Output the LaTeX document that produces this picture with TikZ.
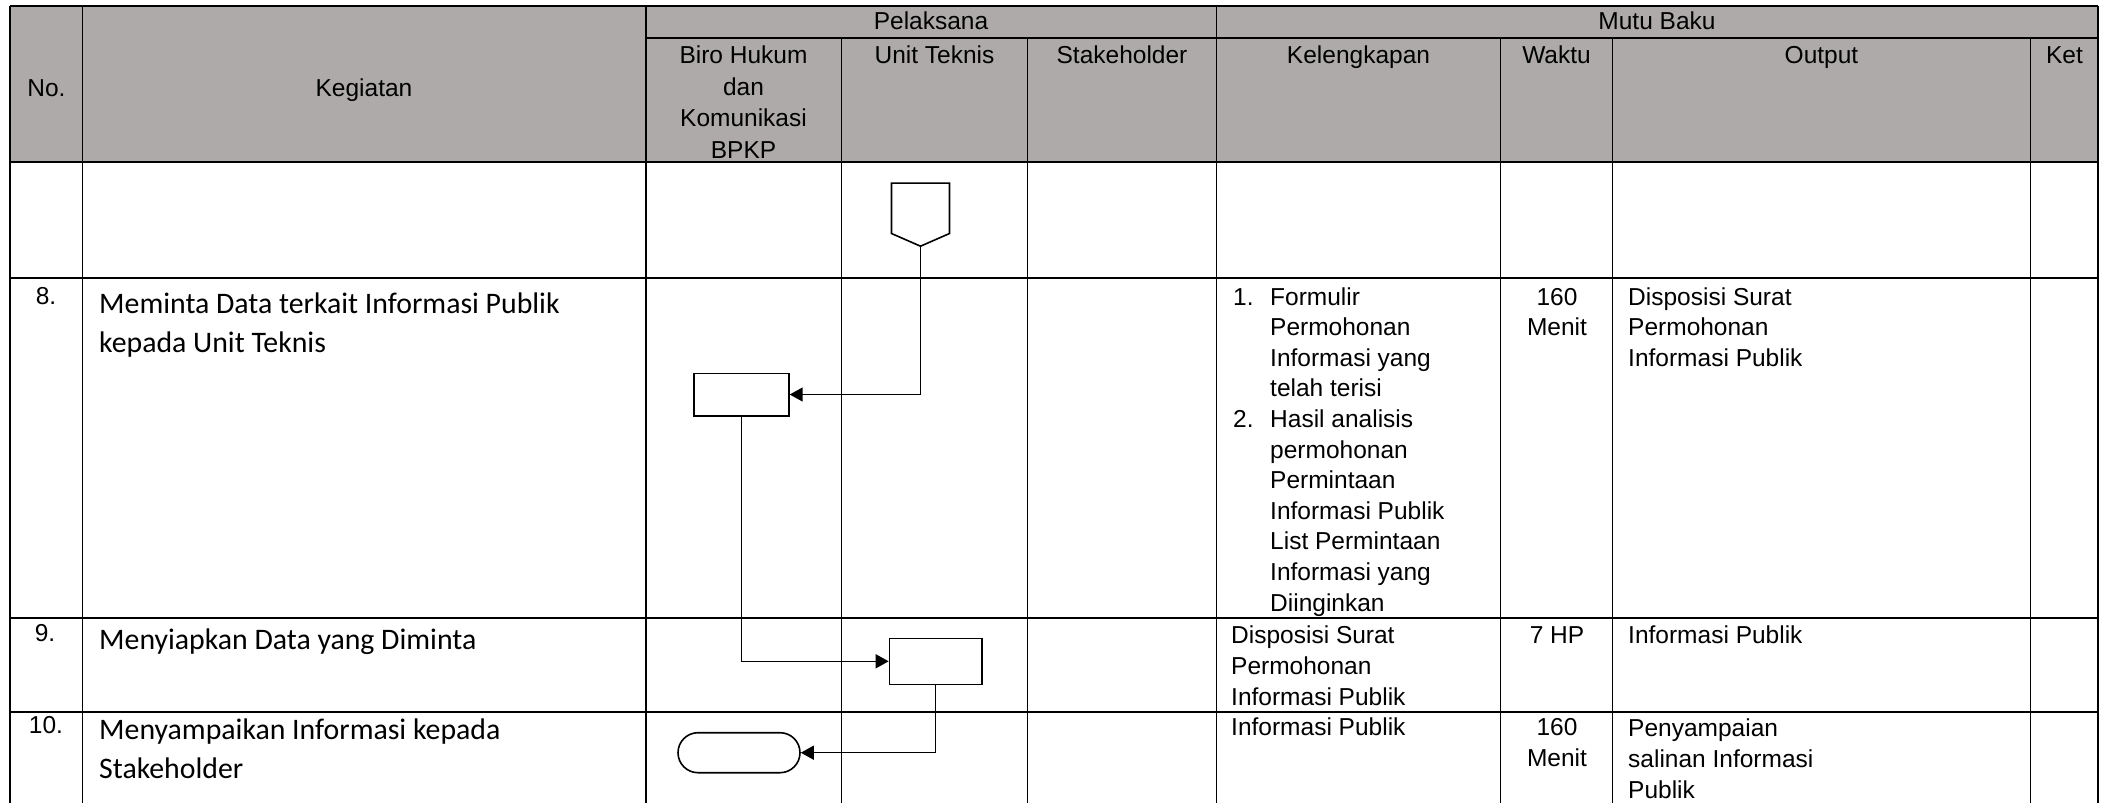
\documentclass[tikz,border=0pt]{standalone}
\usepackage{fontspec}
\setmainfont{Liberation Sans}
\newfontfamily\calfont{Carlito}
\usetikzlibrary{arrows.meta,shapes.misc}
\definecolor{hdr}{RGB}{174,170,170}
\newcommand{\mytab}[2]{\begin{tabular}[t]{@{}#1@{}}#2\end{tabular}}
\newcommand{\lnum}[1]{\makebox[37pt][l]{#1}}
\newcommand{\lind}{\hspace*{37pt}}
\begin{document}
\begin{tikzpicture}[x=1pt,y=-1pt,
  ar/.style={font=\fontsize{24.5}{31}\selectfont, inner sep=0pt},
  arh/.style={font=\fontsize{24.5}{31.7}\selectfont, inner sep=0pt},
  ark/.style={font=\fontsize{24.5}{30.6}\selectfont, inner sep=0pt},
  ca/.style={font=\calfont\fontsize{29.8}{39.5}\selectfont, inner sep=0pt, anchor=base west},
  rowline/.style={line width=2.2pt},
  colline/.style={line width=1.8pt},
  shp/.style={draw, line width=1.6pt, fill=white, inner sep=0pt},
  conn/.style={line width=1.5pt, -{Triangle[length=13pt,width=14pt]}}
]
\useasboundingbox (0,0) rectangle (2107,803);
% header fill
\fill[hdr] (10,6) rectangle (2098,161.7);
% horizontal lines
\draw[rowline] (10,6) -- (2098,6);
\draw[colline] (646,37.7) -- (2098,37.7);
\foreach \yy in {161.7,277.7,617.7,711.7} \draw[rowline] (10,\yy) -- (2098,\yy);
% vertical lines
\foreach \xx in {10,82.5,646,1216.5,2098} \draw[colline] (\xx,6) -- (\xx,803);
\foreach \xx in {841.5,1027.5,1500.5,1612.5,2030.5} \draw[colline] (\xx,37.7) -- (\xx,803);

% header texts
\node[ar, anchor=base] (hno) at (46.5,96.7) {No.};
\node[ar, anchor=base] (hkeg) at (364,96.7) {Kegiatan};
\node[ar, anchor=base] (hpel) at (931,29.3) {Pelaksana};
\node[ar, anchor=base] (hmutu) at (1657,29.3) {Mutu Baku};
\node[arh, anchor=base] (hbiro) at (743.5,63.3) {\mytab{c}{Biro Hukum\\dan\\Komunikasi\\BPKP}};
\node[ar, anchor=base] (hunit) at (934.5,63.3) {Unit Teknis};
\node[ar, anchor=base] (hstake) at (1122,63.3) {Stakeholder};
\node[ar, anchor=base] (hkel) at (1358.5,63.3) {Kelengkapan};
\node[ar, anchor=base] (hwak) at (1556.5,63.3) {Waktu};
\node[ar, anchor=base] (hout) at (1821.5,63.3) {Output};
\node[ar, anchor=base] (hket) at (2064.5,63.3) {Ket};

% row 8
\node[ar, anchor=base] (n8) at (46,304) {8.};
\node[ca] (k8) at (99,313) {\mytab{l}{Meminta Data terkait Informasi Publik\\kepada Unit Teknis}};
\node[ark, anchor=base west] (kl8) at (1233,305) {\mytab{l}{\lnum{1.}Formulir\\\lind Permohonan\\\lind Informasi yang\\\lind telah terisi\\\lnum{2.}Hasil analisis\\\lind permohonan\\\lind Permintaan\\\lind Informasi Publik\\\lind List Permintaan\\\lind Informasi yang\\\lind Diinginkan}};
\node[ark, anchor=base] (w8) at (1557,305) {\mytab{c}{160\\Menit}};
\node[ark, anchor=base west] (o8) at (1628,305) {\mytab{l}{Disposisi Surat\\Permohonan\\Informasi Publik}};

% row 9
\node[ar, anchor=base] (n9) at (45,641) {9.};
\node[ca] (k9) at (99,649) {Menyiapkan Data yang Diminta};
\node[ar, anchor=base west] (kl9) at (1231,643) {\mytab{l}{Disposisi Surat\\Permohonan\\Informasi Publik}};
\node[ar, anchor=base] (w9) at (1557,643) {7 HP};
\node[ar, anchor=base west] (o9) at (1628,643) {Informasi Publik};

% row 10
\node[ar, anchor=base] (n10) at (46,733) {10.};
\node[ca] (k10) at (99,739) {\mytab{l}{Menyampaikan Informasi kepada\\Stakeholder}};
\node[ar, anchor=base west] (kl10) at (1231,735) {Informasi Publik};
\node[ar, anchor=base] (w10) at (1557,735) {\mytab{c}{160\\Menit}};
\node[ar, anchor=base west] (o10) at (1628,736) {\mytab{l}{Penyampaian\\salinan Informasi\\Publik}};

% flow shapes
\node[inner sep=0pt, minimum width=57.6pt, minimum height=62.7pt] (pent) at (920.5,214.65) {};
\draw[line width=1.6pt, fill=white] (pent.north west) -- (pent.north east) -- ([yshift=12.7pt]pent.south east) -- (pent.south) -- ([yshift=12.7pt]pent.south west) -- cycle;
\node[shp, rectangle, minimum width=95pt, minimum height=42.4pt] (b8) at (741.4,394.5) {};
\node[shp, rectangle, minimum width=92.5pt, minimum height=46pt] (b9) at (935.7,661.3) {};
\node[shp, rounded rectangle, minimum width=122pt, minimum height=40pt] (term) at (739,752.7) {};

% connectors
\draw[conn] (pent.south) |- (b8.east);
\draw[conn] (b8.south) |- (b9.west);
\draw[conn] (b9.south) |- (term.east);
\end{tikzpicture}
\end{document}
